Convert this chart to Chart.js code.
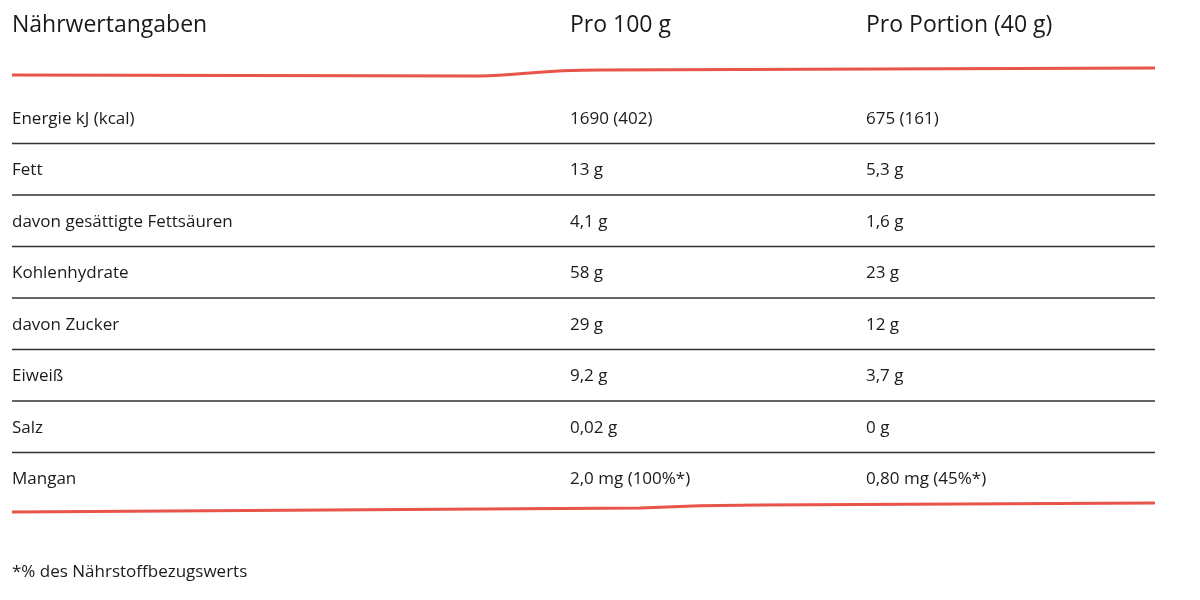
<!DOCTYPE html>
<html>
<head>
<meta charset="utf-8">
<script src="https://cdn.jsdelivr.net/npm/chart.js@4/dist/chart.umd.min.js"></script>
<style>
  html, body { margin: 0; background: #fff; }
  #wrap { width: 1200px; height: 600px; }
</style>
</head>
<body>
<div id="wrap"><canvas id="c"></canvas></div>
<script>
// Table content
const headers   = ['Nährwertangaben', 'Pro 100 g', 'Pro Portion (40 g)'];
const nutrients = ['Energie kJ (kcal)', 'Fett', 'davon gesättigte Fettsäuren', 'Kohlenhydrate',
                   'davon Zucker', 'Eiweiß', 'Salz', 'Mangan'];
const per100    = ['1690 (402)', '13 g', '4,1 g', '58 g', '29 g', '9,2 g', '0,02 g', '2,0 mg (100%*)'];
const perPortion= ['675 (161)', '5,3 g', '1,6 g', '23 g', '12 g', '3,7 g', '0 g', '0,80 mg (45%*)'];
const footnote  = '*% des Nährstoffbezugswerts';

const FONT = '"Open Sans", sans-serif';
const colX = [12, 570, 866];

const tablePlugin = {
  id: 'table',
  afterDraw(chart) {
    const ctx = chart.ctx;
    const x = chart.scales.x, y = chart.scales.y;
    const px = v => x.getPixelForValue(v), py = v => y.getPixelForValue(v);
    ctx.save();
    ctx.textBaseline = 'middle';
    ctx.fillStyle = '#1a1a1a';
    ctx.font = '23px ' + FONT;
    headers.forEach((h, i) => ctx.fillText(h, px(colX[i]), py(25)));

    // red top line
    ctx.strokeStyle = '#e8534a';
    ctx.lineWidth = 3;
    ctx.beginPath();
    ctx.moveTo(px(12), py(75));
    ctx.lineTo(px(480), py(76));
    ctx.bezierCurveTo(px(520), py(75), px(540), py(70), px(600), py(70));
    ctx.lineTo(px(1155), py(68));
    ctx.stroke();

    ctx.font = '17px ' + FONT;
    nutrients.forEach((n, i) => {
      const ry = 119 + i * 51.5;
      ctx.fillStyle = '#1a1a1a';
      ctx.fillText(n, px(colX[0]), py(ry));
      ctx.fillText(per100[i], px(colX[1]), py(ry));
      ctx.fillText(perPortion[i], px(colX[2]), py(ry));
      if (i < nutrients.length - 1) {
        ctx.strokeStyle = '#333';
        ctx.lineWidth = 1.5;
        ctx.beginPath();
        ctx.moveTo(px(12), py(ry + 24.5));
        ctx.lineTo(px(1155), py(ry + 24.5));
        ctx.stroke();
      }
    });

    // red bottom line
    ctx.strokeStyle = '#e8534a';
    ctx.lineWidth = 3;
    ctx.beginPath();
    ctx.moveTo(px(12), py(512));
    ctx.lineTo(px(640), py(508));
    ctx.bezierCurveTo(px(680), py(506), px(700), py(505), px(760), py(505));
    ctx.lineTo(px(1155), py(503));
    ctx.stroke();

    ctx.fillStyle = '#1a1a1a';
    ctx.font = '17px ' + FONT;
    ctx.fillText(footnote, px(12), py(572));
    ctx.restore();
  }
};

new Chart(document.getElementById('c'), {
  type: 'scatter',
  data: { datasets: [{ data: [] }] },
  options: {
    responsive: true,
    maintainAspectRatio: false,
    animation: false,
    layout: { padding: 0 },
    plugins: { legend: { display: false }, tooltip: { enabled: false } },
    scales: {
      x: { type: 'linear', min: 0, max: 1200, display: false },
      y: { type: 'linear', min: 0, max: 600, reverse: true, display: false }
    }
  },
  plugins: [tablePlugin]
});
</script>
</body>
</html>
